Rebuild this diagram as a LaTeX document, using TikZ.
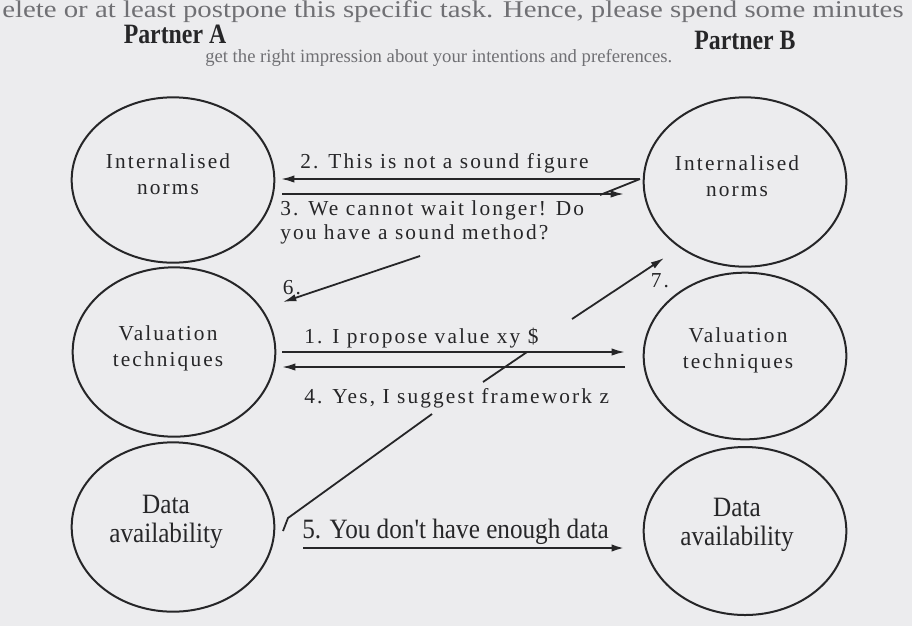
\documentclass[tikz,border=0pt]{standalone}
\usepackage{fontspec}
\setmainfont{Liberation Serif}
\newfontfamily\msgfont[LetterSpace=10]{Liberation Serif}
\newfontfamily\condfont[FakeStretch=0.9]{Liberation Serif}
\newfontfamily\headfont[FakeStretch=0.85]{Liberation Serif}
\newfontfamily\ghostfont[FakeStretch=1.2]{Liberation Serif}
\usetikzlibrary{arrows.meta,shapes.geometric}
\definecolor{paper}{RGB}{236,236,238}
\definecolor{ink}{RGB}{38,38,40}
\definecolor{ghost}{RGB}{112,112,116}
\tikzset{
  ell/.style={draw=ink, line width=1.5pt, shape=ellipse, inner sep=0pt, minimum width=152pt},
  msg/.style={text=ink, font=\msgfont\fontsize{16}{18}\selectfont, inner sep=0pt},
  ntext/.style={text=ink, font=\msgfont\fontsize{16}{19.5}\selectfont, align=center, inner sep=0pt},
  ctext/.style={text=ink, font=\condfont\fontsize{21}{22}\selectfont, align=center, inner sep=0pt},
  head/.style={text=ink, font=\headfont\bfseries\fontsize{21}{22}\selectfont, inner sep=0pt},
  ghosttext/.style={text=ghost, inner sep=0pt, anchor=west},
  arr/.style={draw=ink, line width=1.35pt, -{Latex[length=10pt,width=5.5pt]}},
  ln/.style={draw=ink, line width=1.35pt}
}
\begin{document}
\begin{tikzpicture}[x=0.75pt,y=-0.75pt]
\fill[paper] (0,0) rectangle (912,626);
\useasboundingbox (0,0) rectangle (912,626);
% faint page text
\node[ghosttext, font=\ghostfont\fontsize{18}{20}\selectfont] (g1) at (2,12) {elete or at least postpone this specific task. Hence, please spend some minutes};
\node[ghosttext, font=\fontsize{14}{16}\selectfont] (g2) at (205,58) {get the right impression about your intentions and preferences.};
% headings
\node[head] (hA) at (175,34) {Partner A};
\node[head] (hB) at (745,40) {Partner B};
% ellipses
\node[ell, minimum height=124pt] (L1) at (173,180) {};
\node[ell, minimum height=127pt] (L2) at (174,352) {};
\node[ell, minimum height=127pt] (L3) at (173,527) {};
\node[ell, minimum height=127pt] (R1) at (745,182) {};
\node[ell, minimum height=125pt] (R2) at (745,356) {};
\node[ell, minimum height=126pt] (R3) at (745,531) {};
% ellipse texts
\node[ntext] (tL1) at (168,174) {Internalised\\norms};
\node[ntext] (tR1) at (737,176) {Internalised\\norms};
\node[ntext] (tL2) at (168,348) {Valuation\\techniques};
\node[ntext] (tR2) at (738,350) {Valuation\\techniques};
\node[ctext] (tL3) at (166,522) {Data\\availability};
\node[ctext] (tR3) at (737,525) {Data\\availability};
% connector end points
\coordinate (p2s) at (640,179);
\coordinate (p2e) at (281,179);
\coordinate (p3s) at (282,194);
\coordinate (p3e) at (624,194);
\coordinate (k3e) at (600,195);
\coordinate (p6s) at (420,256);
\coordinate (p6e) at (283,302);
\coordinate (p7s) at (572,319);
\coordinate (p7e) at (664,258);
\coordinate (p1s) at (282,352);
\coordinate (p1e) at (625,352);
\coordinate (p4s) at (625,367);
\coordinate (p4e) at (282,367);
\coordinate (k4s) at (483,382);
\coordinate (k4e) at (527,352);
\coordinate (d1) at (432,414);
\coordinate (d2) at (288,518);
\coordinate (d3) at (283,531);
\coordinate (p5s) at (303,548);
\coordinate (p5e) at (625,548);
% connectors
\draw[arr] (p2s) -- (p2e);
\draw[arr] (p3s) -- (p3e);
\draw[ln] (p2s) -- (k3e);
\draw[arr] (p6s) -- (p6e);
\draw[arr] (p7s) -- (p7e);
\draw[arr] (p1s) -- (p1e);
\draw[arr] (p4s) -- (p4e);
\draw[ln] (k4s) -- (k4e);
\draw[ln] (d1) -- (d2) -- (d3);
\draw[arr, line width=1.9pt] (p5s) -- (p5e);
% message labels
\node[msg, anchor=west] (m2) at (300,163) {2. This is not a sound figure};
\node[msg, anchor=west, align=left] (m3) at (280,222) {3. We cannot wait longer! Do\\you have a sound method?};
\node[msg] (m6) at (292,288) {6.};
\node[msg] (m7) at (660,281) {7.};
\node[msg, anchor=west] (m1) at (304,338) {1. I propose value xy \$};
\node[msg, anchor=west] (m4) at (304,398) {4. Yes, I suggest framework z};
\node[ctext, anchor=west] (m5) at (302,532) {5. You don't have enough data};
\end{tikzpicture}
\end{document}
